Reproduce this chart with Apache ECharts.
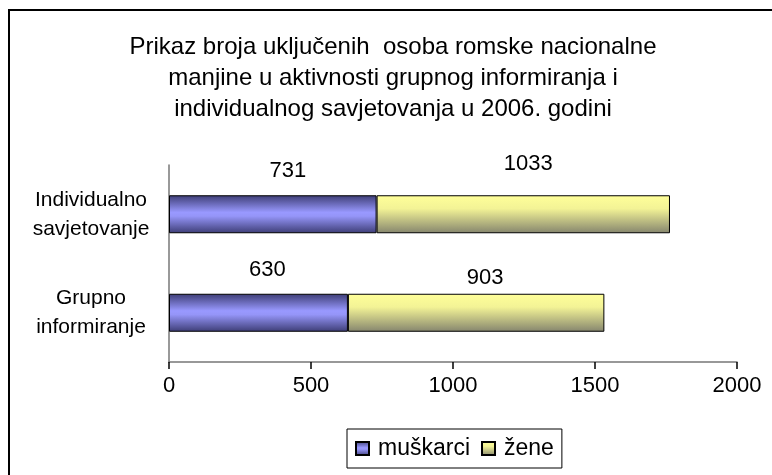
<!DOCTYPE html>
<html>
<head>
<meta charset="utf-8">
<script src="https://cdn.jsdelivr.net/npm/echarts@6/dist/echarts.min.js"></script>
<style>html,body{margin:0;padding:0;background:#fff}#c{width:772px;height:475px}</style>
</head>
<body>
<div id="c"></div>
<script>
const titleText = "Prikaz broja uključenih  osoba romske nacionalne\nmanjine u aktivnosti grupnog informiranja i\nindividualnog savjetovanja u 2006. godini";
const categories = ["Grupno informiranje", "Individualno savjetovanje"];
const seriesNames = ["muškarci", "žene"];
const muskarci = [630, 731];
const zene = [903, 1033];
const xTicks = { min: 0, max: 2000, interval: 500 };

// label nudges (styling only), per series per category
const nudgeM = [[9, -8], [15, -8]];
const nudgeZ = [[9, 0], [5, -15]];

const FONT = "Liberation Sans, Arial, sans-serif";
const chart = echarts.init(document.getElementById('c'), null, {renderer: 'canvas'});

const purple = new echarts.graphic.LinearGradient(0, 0, 0, 1, [
  {offset: 0, color: '#3d3d75'},
  {offset: 0.45, color: '#9999ff'},
  {offset: 0.55, color: '#9595f8'},
  {offset: 1, color: '#3d3d75'}
]);
const yellow = new echarts.graphic.LinearGradient(0, 0, 0, 1, [
  {offset: 0, color: '#ffff99'},
  {offset: 0.35, color: '#f3f396'},
  {offset: 1, color: '#85856e'}
]);

function mk(vals, nudge) {
  return vals.map((v, i) => ({value: v, label: {offset: nudge[i]}}));
}

chart.setOption({
  animation: false,
  backgroundColor: '#fff',
  textStyle: {fontFamily: FONT},
  graphic: [{
    type: 'rect', silent: true, z: 100,
    shape: {x: 9, y: 10, width: 800, height: 500},
    style: {fill: 'none', stroke: '#000', lineWidth: 2}
  }],
  title: {
    text: titleText,
    left: 388, top: 27, textAlign: 'center',
    textStyle: {fontFamily: FONT, fontSize: 24, fontWeight: 'normal', color: '#000', lineHeight: 31}
  },
  legend: {
    left: 347, top: 429,
    data: seriesNames,
    orient: 'horizontal',
    itemWidth: 13, itemHeight: 13, itemGap: 11,
    icon: 'rect',
    borderColor: '#000', borderWidth: 1,
    padding: [8, 8, 8, 8],
    textStyle: {fontFamily: FONT, fontSize: 23, color: '#000', padding: [0, 0, 0, 4]}
  },
  grid: {left: 169, right: 35, top: 165, bottom: 113, containLabel: false},
  xAxis: {
    type: 'value', min: xTicks.min, max: xTicks.max, interval: xTicks.interval,
    axisLine: {show: true, lineStyle: {color: '#777', width: 1.5}},
    axisTick: {show: true, length: 7, lineStyle: {color: '#000', width: 1.5}},
    splitLine: {show: false},
    axisLabel: {fontFamily: FONT, fontSize: 22, color: '#000', margin: 13, formatter: v => String(v)}
  },
  yAxis: {
    type: 'category', data: categories,
    axisLine: {show: true, lineStyle: {color: '#777', width: 1.5}},
    axisTick: {show: false},
    axisLabel: {
      fontFamily: FONT, fontSize: 21, color: '#000', margin: 78, align: 'center',
      lineHeight: 29, formatter: s => s.replace(' ', '\n')
    }
  },
  series: [
    {
      name: seriesNames[0], type: 'bar', stack: 'a', barWidth: 38,
      data: mk(muskarci, nudgeM),
      itemStyle: {color: purple, borderColor: '#000', borderWidth: 1},
      label: {show: true, position: 'top', fontFamily: FONT, fontSize: 22, color: '#000'}
    },
    {
      name: seriesNames[1], type: 'bar', stack: 'a', barWidth: 38,
      data: mk(zene, nudgeZ),
      itemStyle: {color: yellow, borderColor: '#000', borderWidth: 1},
      label: {show: true, position: 'top', fontFamily: FONT, fontSize: 22, color: '#000'}
    }
  ]
});
</script>
</body>
</html>
